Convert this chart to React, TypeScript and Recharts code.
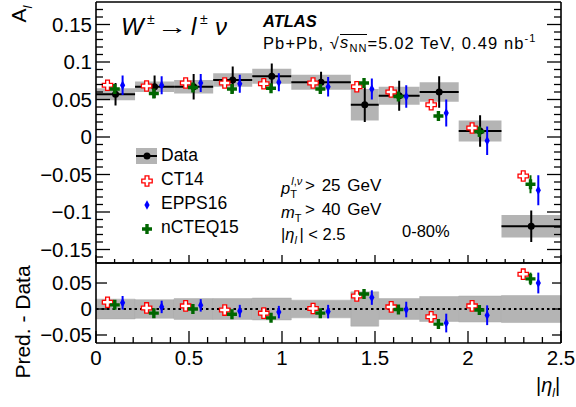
import React from "react";
import {
  ComposedChart,
  Scatter,
  XAxis,
  YAxis,
  ErrorBar,
  ReferenceArea,
  ReferenceLine,
} from "recharts";

// |eta_l| bin edges
const binEdges = [0, 0.21, 0.42, 0.63, 0.84, 1.05, 1.37, 1.52, 1.74, 1.95, 2.18, 2.5];

// top panel: lepton charge asymmetry A_l
const dataAl = [0.057, 0.067, 0.067, 0.076, 0.081, 0.073, 0.043, 0.055, 0.06, 0.008, -0.119];
const dataStat = [0.015, 0.015, 0.017, 0.018, 0.017, 0.014, 0.023, 0.02, 0.021, 0.021, 0.021];
const dataSyst = [0.008, 0.007, 0.009, 0.009, 0.01, 0.01, 0.021, 0.012, 0.013, 0.014, 0.015];
const ct14 = [0.069, 0.068, 0.072, 0.072, 0.071, 0.072, 0.067, 0.06, 0.043, 0.012, -0.052];
const epps16 = [0.069, 0.069, 0.072, 0.071, 0.073, 0.067, 0.064, 0.054, 0.032, -0.005, -0.071];
const epps16Err = [0.013, 0.012, 0.012, 0.012, 0.012, 0.013, 0.014, 0.015, 0.018, 0.019, 0.02];
const ncteq15 = [0.064, 0.058, 0.066, 0.064, 0.065, 0.064, 0.072, 0.054, 0.028, 0.007, -0.063];
const ncteq15Err = [0.004, 0.004, 0.004, 0.004, 0.004, 0.004, 0.005, 0.005, 0.006, 0.007, 0.012];

// bottom panel: Pred. - Data
const bandErr = [0.019, 0.018, 0.02, 0.02, 0.021, 0.017, 0.033, 0.02, 0.024, 0.025, 0.026];
const ct14Diff = [0.013, 0.002, 0.006, -0.002, -0.008, 0.001, 0.025, 0.004, -0.015, 0.006, 0.067];
const epps16Diff = [0.012, 0.004, 0.007, -0.004, -0.006, -0.005, 0.022, -0.001, -0.027, -0.012, 0.05];
const ncteq15Diff = [0.008, -0.008, 0, -0.01, -0.017, -0.008, 0.029, -0.001, -0.029, -0.002, 0.058];

// axis ticks
const xMajor = [0, 0.5, 1, 1.5, 2, 2.5];
const xTicks = Array.from({ length: 26 }, (_, i) => i / 10);
const yMajorTop = [-0.15, -0.1, -0.05, 0, 0.05, 0.1, 0.15];
const yTicksTop = Array.from({ length: 34 }, (_, i) => (i - 16) / 100);
const yTicksBottom = [-0.05, 0, 0.05];

const FONT = '"Liberation Sans", Arial, Helvetica, sans-serif';
const GRAY = "#b4b4b4";
const RED = "#ff0000";
const BLUE = "#0000ff";
const GREEN = "#006600";

const centers = binEdges.slice(0, -1).map((e, i) => (e + binEdges[i + 1]) / 2);
const halfW = binEdges.slice(0, -1).map((e, i) => (binEdges[i + 1] - e) / 2);

// horizontal offsets of the predictions inside a bin
const OFF_CT = -0.043;
const OFF_NC = -0.004;
const OFF_EP = 0.038;

const dataPts = dataAl.map((v, i) => ({ x: centers[i], y: v, xe: halfW[i], ye: dataStat[i] }));
const ctPts = ct14.map((v, i) => ({ x: centers[i] + OFF_CT, y: v }));
const epPts = epps16.map((v, i) => ({ x: centers[i] + OFF_EP, y: v, ye: epps16Err[i] }));
const ncPts = ncteq15.map((v, i) => ({ x: centers[i] + OFF_NC, y: v, ye: ncteq15Err[i] }));

const ctDiffPts = ct14Diff.map((v, i) => ({ x: centers[i] + OFF_CT, y: v }));
const epDiffPts = epps16Diff.map((v, i) => ({ x: centers[i] + OFF_EP, y: v, ye: epps16Err[i] }));
const ncDiffPts = ncteq15Diff.map((v, i) => ({ x: centers[i] + OFF_NC, y: v, ye: ncteq15Err[i] }));

function crossPath(a: number, t: number) {
  return `M${-t},${-a}H${t}V${-t}H${a}V${t}H${t}V${a}H${-t}V${t}H${-a}V${-t}H${-t}Z`;
}

function Marker({ kind, cx, cy }: { kind: string; cx: number; cy: number }) {
  if (kind === "data") return <circle cx={cx} cy={cy} r={3.5} fill="#000" />;
  if (kind === "ct")
    return (
      <path
        d={crossPath(5.2, 1.9)}
        transform={`translate(${cx},${cy})`}
        fill="#fff"
        stroke={RED}
        strokeWidth={1.3}
      />
    );
  if (kind === "ep")
    return <path d="M0,-4.8L2.6,0L0,4.8L-2.6,0Z" transform={`translate(${cx},${cy})`} fill={BLUE} />;
  return <path d={crossPath(5, 1.7)} transform={`translate(${cx},${cy})`} fill={GREEN} />;
}

const shape = (kind: string) => (p: any) => <Marker kind={kind} cx={p.cx} cy={p.cy} />;

function fmt(v: number) {
  const r = parseFloat(v.toFixed(3));
  if (r === 0) return "0";
  return (r < 0 ? "\u2212" : "") + String(Math.abs(r));
}

type Side = "left" | "right" | "top" | "bottom";

function ticker(side: Side, majors: number[], majorLen: number, minorLen: number, label = false) {
  return (props: any) => {
    const x = Number(props.x);
    const y = Number(props.y);
    const v = props.payload.value as number;
    const isMajor = majors.some((m) => Math.abs(m - v) < 1e-9);
    const L = isMajor ? majorLen : minorLen;
    let x2 = x;
    let y2 = y;
    if (side === "left") x2 = x + L;
    if (side === "right") x2 = x - L;
    if (side === "bottom") y2 = y - L;
    if (side === "top") y2 = y + L;
    return (
      <g>
        <line x1={x} y1={y} x2={x2} y2={y2} stroke="#000" strokeWidth={1.3} />
        {label && isMajor && side === "left" && (
          <text x={x - 4} y={y} dy="0.36em" textAnchor="end" fontSize={20.5} fontFamily={FONT} fill="#000">
            {fmt(v)}
          </text>
        )}
        {label && isMajor && side === "bottom" && (
          <text x={x} y={y + 7} dy="0.72em" textAnchor="middle" fontSize={20.5} fontFamily={FONT} fill="#000">
            {fmt(v)}
          </text>
        )}
      </g>
    );
  };
}

const axisCommon = {
  type: "number" as const,
  tickSize: 0,
  tickMargin: 0,
  tickLine: false,
  interval: 0 as const,
  allowDataOverflow: true,
  stroke: "#000",
  axisLine: { stroke: "#000", strokeWidth: 1.6 },
};

function Txt({ left, base, size, children, style }: any) {
  return (
    <div
      style={{
        position: "absolute",
        left,
        top: base - 0.85 * size,
        fontSize: size,
        lineHeight: 1,
        fontFamily: FONT,
        whiteSpace: "nowrap",
        color: "#000",
        ...style,
      }}
    >
      {children}
    </div>
  );
}

function LegendMark({ kind, cx, cy }: { kind: string; cx: number; cy: number }) {
  return (
    <svg style={{ position: "absolute", left: cx - 12, top: cy - 12 }} width={24} height={24}>
      <Marker kind={kind} cx={12} cy={12} />
    </svg>
  );
}

// two-level index: superscript above subscript, placed after a symbol
function SupSub({ sup, sub, width }: { sup?: React.ReactNode; sub?: React.ReactNode; width: number }) {
  return (
    <span style={{ position: "relative", display: "inline-block", width, height: "1em" }}>
      {sup && <span style={{ position: "absolute", left: 1, top: -1, fontSize: 11, lineHeight: 1 }}>{sup}</span>}
      {sub && <span style={{ position: "absolute", left: 0, top: 12, fontSize: 11, lineHeight: 1 }}>{sub}</span>}
    </span>
  );
}

function TopPanel() {
  return (
    <ComposedChart width={576} height={264} margin={{ top: 1, right: 14, bottom: 0, left: 0 }}>
      <XAxis {...axisCommon} dataKey="x" domain={[0, 2.5]} ticks={xTicks} height={1} tick={ticker("bottom", xMajor, 8, 4)} />
      <XAxis {...axisCommon} xAxisId="t" orientation="top" domain={[0, 2.5]} ticks={xTicks} height={1} tick={ticker("top", xMajor, 8, 4)} />
      <YAxis {...axisCommon} dataKey="y" domain={[-0.168, 0.18]} ticks={yTicksTop} width={96} tick={ticker("left", yMajorTop, 14, 7, true)} />
      <YAxis {...axisCommon} yAxisId="r" orientation="right" domain={[-0.168, 0.18]} ticks={yTicksTop} width={1} tick={ticker("right", yMajorTop, 14, 7)} />
      {dataAl.map((v, i) => (
        <ReferenceArea
          key={i}
          x1={binEdges[i]}
          x2={binEdges[i + 1]}
          y1={v - dataSyst[i]}
          y2={v + dataSyst[i]}
          fill={GRAY}
          fillOpacity={1}
          stroke="none"
        />
      ))}
      <Scatter data={dataPts} shape={shape("data")} isAnimationActive={false}>
        <ErrorBar dataKey="xe" direction="x" width={0} stroke="#000" strokeWidth={2} />
        <ErrorBar dataKey="ye" direction="y" width={0} stroke="#000" strokeWidth={2} />
      </Scatter>
      <Scatter data={ctPts} shape={shape("ct")} isAnimationActive={false} />
      <Scatter data={ncPts} shape={shape("nc")} isAnimationActive={false}>
        <ErrorBar dataKey="ye" direction="y" width={0} stroke={GREEN} strokeWidth={2} />
      </Scatter>
      <Scatter data={epPts} shape={shape("ep")} isAnimationActive={false}>
        <ErrorBar dataKey="ye" direction="y" width={0} stroke={BLUE} strokeWidth={2} />
      </Scatter>
    </ComposedChart>
  );
}

function BottomPanel() {
  return (
    <ComposedChart width={576} height={145} margin={{ top: 0, right: 14, bottom: 63, left: 0 }}>
      <XAxis {...axisCommon} dataKey="x" domain={[0, 2.5]} ticks={xTicks} height={1} tick={ticker("bottom", xMajor, 12, 6, true)} />
      <XAxis {...axisCommon} xAxisId="t" orientation="top" domain={[0, 2.5]} ticks={xTicks} height={1} tick={ticker("top", xMajor, 12, 6)} />
      <YAxis {...axisCommon} dataKey="y" domain={[-0.0654, 0.0885]} ticks={yTicksBottom} width={96} tick={ticker("left", yTicksBottom, 11, 6, true)} />
      <YAxis {...axisCommon} yAxisId="r" orientation="right" domain={[-0.0654, 0.0885]} ticks={yTicksBottom} width={1} tick={ticker("right", yTicksBottom, 9, 5)} />
      {bandErr.map((e, i) => (
        <ReferenceArea
          key={i}
          x1={binEdges[i]}
          x2={binEdges[i + 1]}
          y1={-e}
          y2={e}
          fill={GRAY}
          fillOpacity={1}
          stroke="#a8a8a8"
          strokeWidth={0.5}
        />
      ))}
      <ReferenceLine y={0} stroke="#000" strokeWidth={2} strokeDasharray="2.5 3" />
      <Scatter data={ctDiffPts} shape={shape("ct")} isAnimationActive={false} />
      <Scatter data={ncDiffPts} shape={shape("nc")} isAnimationActive={false}>
        <ErrorBar dataKey="ye" direction="y" width={0} stroke={GREEN} strokeWidth={2} />
      </Scatter>
      <Scatter data={epDiffPts} shape={shape("ep")} isAnimationActive={false}>
        <ErrorBar dataKey="ye" direction="y" width={0} stroke={BLUE} strokeWidth={2} />
      </Scatter>
    </ComposedChart>
  );
}

export default function App() {
  const rot = (cx: number, cy: number, size: number): React.CSSProperties => ({
    position: "absolute",
    left: cx,
    top: cy,
    transform: "translate(-50%,-50%) rotate(-90deg)",
    fontSize: size,
    fontFamily: FONT,
    whiteSpace: "nowrap",
    lineHeight: 1,
  });
  return (
    <div style={{ position: "absolute", left: 0, top: 0, width: 576, height: 407, background: "#fff", overflow: "hidden" }}>
      <div style={{ position: "absolute", left: 0, top: 0 }}>
        <TopPanel />
      </div>
      <div style={{ position: "absolute", left: 0, top: 262 }}>
        <BottomPanel />
      </div>

      {/* axis titles */}
      <div style={rot(21, 14, 21)}>
        A<sub style={{ fontSize: 13, fontStyle: "italic" }}>l</sub>
      </div>
      <div style={rot(22, 322, 21)}>Pred. - Data</div>
      <Txt left={536} base={392} size={20}>
        |<i>η</i>
        <sub style={{ fontSize: 12 }}>
          <i>l</i>
        </sub>
        |
      </Txt>

      {/* process label */}
      <Txt left={121} base={35} size={24} style={{ fontStyle: "italic" }}>W</Txt>
      <Txt left={147} base={24} size={14}>±</Txt>
      <Txt left={157} base={35} size={22} style={{ transform: "scaleX(1.4)", transformOrigin: "0 0" }}>→</Txt>
      <Txt left={191} base={35} size={24} style={{ fontStyle: "italic" }}>l</Txt>
      <Txt left={200} base={24} size={14}>±</Txt>
      <Txt left={215} base={35} size={24} style={{ fontStyle: "italic" }}>ν</Txt>

      <Txt left={263} base={27} size={16.5} style={{ fontWeight: "bold", fontStyle: "italic" }}>ATLAS</Txt>
      <Txt left={263} base={47} size={16.5} style={{ letterSpacing: 1.1 }}>
        Pb+Pb, √
        <span style={{ display: "inline-block", borderTop: "1px solid #000", lineHeight: "15px" }}>
          <i>s</i>
          <sub style={{ fontSize: 11 }}>NN</sub>
        </span>
        =5.02 TeV, 0.49 nb<sup style={{ fontSize: 11 }}>-1</sup>
      </Txt>

      {/* legend */}
      <div style={{ position: "absolute", left: 136, top: 148, width: 21, height: 16, background: GRAY }} />
      <div style={{ position: "absolute", left: 136, top: 155, width: 21, height: 2, background: "#000" }} />
      <LegendMark kind="data" cx={147} cy={156} />
      <Txt left={161} base={162} size={17.5}>Data</Txt>
      <LegendMark kind="ct" cx={147} cy={181} />
      <Txt left={161} base={186} size={17.5}>CT14</Txt>
      <LegendMark kind="ep" cx={147} cy={205} />
      <Txt left={161} base={210} size={17.5}>EPPS16</Txt>
      <LegendMark kind="nc" cx={147} cy={229} />
      <Txt left={161} base={234} size={17.5}>nCTEQ15</Txt>

      {/* selection */}
      <Txt left={281} base={191} size={16.5}>
        <i>p</i>
        <SupSub
          width={16}
          sup={
            <>
              <i>l</i>,<i>ν</i>
            </>
          }
          sub="T"
        />
      </Txt>
      <Txt left={305} base={191} size={17} style={{ wordSpacing: 2 }}>&gt; 25 GeV</Txt>
      <Txt left={281} base={215} size={16.5}>
        <i>m</i>
        <SupSub width={10} sub="T" />
      </Txt>
      <Txt left={305} base={215} size={17} style={{ wordSpacing: 2 }}>&gt; 40 GeV</Txt>
      <Txt left={281} base={237} size={16.5}>
        |<i>η</i>
        <SupSub width={5} sub={<i>l</i>} />| &lt; 2.5
      </Txt>
      <Txt left={402} base={237} size={16.5}>0-80%</Txt>
    </div>
  );
}
